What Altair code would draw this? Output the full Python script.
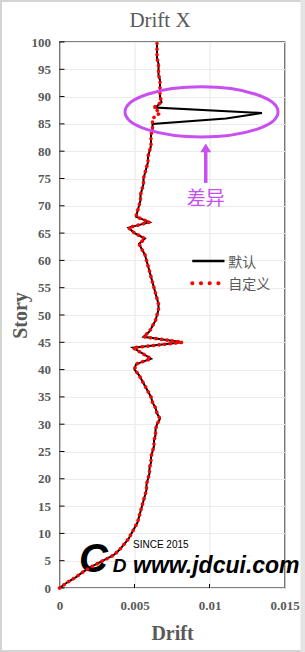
import altair as alt
import pandas as pd

# ---------------- data ----------------
stories = list(range(0, 101))
drift_default = [
    0.0, 0.0005, 0.0011, 0.0016, 0.0022, 0.0029, 0.0036, 0.0040, 0.0043, 0.0046,
    0.0048, 0.0050, 0.0052, 0.0053, 0.0054, 0.0055, 0.0056, 0.0057, 0.0058, 0.0058,
    0.0059, 0.0060, 0.0060, 0.0061, 0.0061, 0.0062, 0.0063, 0.0063, 0.0064, 0.0064,
    0.0065, 0.0067, 0.0065, 0.0064, 0.0062, 0.0061, 0.0059, 0.0057, 0.0055, 0.0053,
    0.0050, 0.0051, 0.0061, 0.0055, 0.0049, 0.0082, 0.0056, 0.0060, 0.0062, 0.0064,
    0.0065, 0.0066, 0.0066, 0.0065, 0.0064, 0.0063, 0.0062, 0.0061, 0.0060, 0.0059,
    0.0058, 0.0057, 0.0055, 0.0053, 0.0057, 0.0050, 0.0046, 0.0060, 0.0051, 0.0052,
    0.0053, 0.0054, 0.0054, 0.0055, 0.0056, 0.0056, 0.0057, 0.0058, 0.0059, 0.0059,
    0.0060, 0.0061, 0.0061, 0.0061, 0.0062, 0.0062, 0.0111, 0.0135, 0.0064, 0.0068,
    0.0067, 0.0067, 0.0067, 0.0067, 0.0066, 0.0066, 0.0066, 0.0065, 0.0065, 0.0065,
    0.0065,
]
drift_custom = [
    0.0, 0.0005, 0.0011, 0.0016, 0.0022, 0.0029, 0.0036, 0.0040, 0.0043, 0.0046,
    0.0048, 0.0050, 0.0052, 0.0053, 0.0054, 0.0055, 0.0056, 0.0057, 0.0058, 0.0058,
    0.0059, 0.0060, 0.0060, 0.0061, 0.0061, 0.0062, 0.0063, 0.0063, 0.0064, 0.0064,
    0.0065, 0.0067, 0.0065, 0.0064, 0.0062, 0.0061, 0.0059, 0.0057, 0.0055, 0.0053,
    0.0050, 0.0051, 0.0061, 0.0055, 0.0049, 0.0082, 0.0056, 0.0060, 0.0062, 0.0064,
    0.0065, 0.0066, 0.0066, 0.0065, 0.0064, 0.0063, 0.0062, 0.0061, 0.0060, 0.0059,
    0.0058, 0.0057, 0.0055, 0.0053, 0.0057, 0.0050, 0.0046, 0.0060, 0.0051, 0.0052,
    0.0053, 0.0054, 0.0054, 0.0055, 0.0056, 0.0056, 0.0057, 0.0058, 0.0059, 0.0059,
    0.0060, 0.0061, 0.0061, 0.0061, 0.0062, 0.0062, 0.0062, 0.0067, 0.0063, 0.0068,
    0.0067, 0.0067, 0.0067, 0.0067, 0.0066, 0.0066, 0.0066, 0.0065, 0.0065, 0.0065,
    0.0065,
]
series_names = ["默认", "自定义"]
x_ticks = [0, 0.005, 0.01, 0.015]
y_ticks = list(range(0, 101, 5))
inner_x_ticks = [0.005, 0.01]

chart_title = "Drift X"
x_title = "Drift"
y_title = "Story"

# annotation (data coordinates)
ellipse_pos = {"drift": [0.00947], "story": [87.2]}
arrow_x = 0.00975
arrow_story = [74.2, 79.9]
arrow_head_story = 80.6
note_text = "差异"
note_story = 71.2

# legend (data coordinates)
legend_x = [0.00885, 0.01100]
legend_x_red = [0.00885, 0.01065]
legend_story = [59.9, 55.8]
legend_text_x = 0.01125

# watermark
wm_main = "www.jdcui.com"
wm_small = "SINCE 2015"

# ---------------- styling ----------------
W, H = 225, 546
GRAY = "#595959"
SERIF = "Liberation Serif"
CJK = "Noto Sans CJK SC"
MAG = "#c84ff0"

xs = alt.Scale(domain=[0, 0.015], nice=False, zero=False)
ys = alt.Scale(domain=[0, 100], nice=False, zero=False)

xaxis = alt.Axis(values=x_ticks, format=".3~f", grid=True, ticks=False, domain=False,
                 labelFont=SERIF, labelFontWeight="bold", labelFontSize=13,
                 labelColor=GRAY, labelPadding=11, labelFlush=False, labelOverlap=False,
                 title=x_title, titleFont=SERIF, titleFontWeight="bold",
                 titleFontSize=20, titleColor=GRAY, titleBaseline="middle",
                 titleY=45, gridColor="#e9e6df", gridWidth=1)
yaxis = alt.Axis(values=y_ticks, grid=True, ticks=False, domain=False,
                 labelFont=SERIF, labelFontWeight="bold", labelFontSize=13,
                 labelColor=GRAY, labelPadding=9, labelFlush=False, labelOverlap=False,
                 title=y_title, titleFont=SERIF, titleFontWeight="bold",
                 titleFontSize=20, titleColor=GRAY, titleAngle=-90,
                 titleBaseline="middle", titleAlign="center",
                 titleX=-39.5, titleY=273, gridColor="#ebebeb", gridWidth=1)

X = alt.X("drift:Q", scale=xs, axis=xaxis)
Y = alt.Y("story:Q", scale=ys, axis=yaxis)

df_def = pd.DataFrame({"story": stories, "drift": drift_default, "series": series_names[0]})
df_cus = pd.DataFrame({"story": stories, "drift": drift_custom, "series": series_names[1]})

one = pd.DataFrame({"k": [0]})

# outer light-gray border of the picture
border = alt.Chart(one).mark_rect(fill=None, stroke="#d4d4d4", strokeWidth=2).encode(
    x=alt.value(-58.5), x2=alt.value(244.5), y=alt.value(-41), y2=alt.value(609))
right_strip = alt.Chart(one).mark_rect(fill="#e4e4e4").encode(
    x=alt.value(241), x2=alt.value(245.5), y=alt.value(-42), y2=alt.value(610))

# chart title as text above the plot
title_mark = alt.Chart(one).mark_text(
    text=chart_title, font=SERIF, fontSize=21, color=GRAY, align="center",
    baseline="alphabetic").encode(x=alt.value(100.5), y=alt.value(-15))

# inward ticks
yt = alt.Chart(pd.DataFrame({"story": y_ticks})).mark_rule(color="black", strokeWidth=1).encode(
    y=Y, x=alt.value(0), x2=alt.value(5))
xt = alt.Chart(pd.DataFrame({"drift": inner_x_ticks})).mark_rule(color="black", strokeWidth=1).encode(
    x=X, y=alt.value(H), y2=alt.value(H - 4))

# watermark
wm_df = pd.DataFrame({"drift": [0.0049], "story": [2.75], "t": [wm_main]})
wm = alt.Chart(wm_df).mark_text(font="Liberation Sans", fontSize=23, fontWeight="bold",
                                fontStyle="italic", color="black", align="left",
                                baseline="alphabetic").encode(x=X, y=Y, text="t:N")
wm2 = alt.Chart(pd.DataFrame({"drift": [0.0049], "story": [7.3], "t": [wm_small]})).mark_text(
    font="Liberation Sans", fontSize=10, color="black", align="left",
    baseline="alphabetic").encode(x=X, y=Y, text="t:N")
logo_df = pd.DataFrame({"drift": [0.0013, 0.00355], "story": [2.9, 2.9],
                        "t": ["C", "D"], "s": [40, 19]})
logo = alt.Chart(logo_df).mark_text(font="Liberation Sans", fontWeight="bold",
                                    fontStyle="italic", color="black", align="left",
                                    baseline="alphabetic").encode(
    x=X, y=Y, text="t:N", size=alt.Size("s:Q", scale=None, legend=None))

line_def = alt.Chart(df_def).mark_line(color="black", strokeWidth=2).encode(
    x=X, y=Y, order="story:Q")
line_cus = alt.Chart(df_cus).mark_line(color="#ff0000", strokeWidth=3.6, strokeDash=[0.1, 5.5],
                                       strokeCap="round").encode(x=X, y=Y, order="story:Q")

# annotation: ellipse, arrow, text
ellipse = alt.Chart(pd.DataFrame(ellipse_pos)).mark_point(
    shape="M -1 0 A 1 0.327 0 1 1 1 0 A 1 0.327 0 1 1 -1 0 Z",
    size=153 * 153, filled=False, stroke=MAG, strokeWidth=3, opacity=1).encode(x=X, y=Y)
arrow_line = alt.Chart(pd.DataFrame({"drift": [arrow_x], "story": [arrow_story[0]],
                                     "story2": [arrow_story[1]]})).mark_rule(
    color=MAG, strokeWidth=3.5).encode(x=X, y=Y, y2="story2:Q")
arrow_head = alt.Chart(pd.DataFrame({"drift": [arrow_x], "story": [arrow_head_story]})).mark_point(
    shape="M 0 -0.8 L 1 0.8 L -1 0.8 Z", size=121, filled=True, fill=MAG, opacity=1,
    strokeWidth=0).encode(x=X, y=Y)
note = alt.Chart(pd.DataFrame({"drift": [arrow_x], "story": [note_story], "t": [note_text]})).mark_text(
    font=CJK, fontSize=19, color=MAG, align="center", baseline="middle").encode(
    x=X, y=Y, text="t:N")

# legend
leg_black = alt.Chart(pd.DataFrame({"drift": [legend_x[0]], "drift2": [legend_x[1]],
                                    "story": [legend_story[0]]})).mark_rule(
    color="black", strokeWidth=2.5).encode(x=X, x2="drift2:Q", y=Y)
leg_red = alt.Chart(pd.DataFrame({"drift": [legend_x_red[0]], "drift2": [legend_x_red[1]],
                                  "story": [legend_story[1]]})).mark_rule(
    color="#ff0000", strokeWidth=4, strokeDash=[0.1, 8.6], strokeCap="round").encode(
    x=X, x2="drift2:Q", y=Y)
leg_text = alt.Chart(pd.DataFrame({"drift": [legend_text_x] * 2,
                                   "story": [legend_story[0] - 0.3, legend_story[1] - 0.3],
                                   "t": series_names})).mark_text(
    font=CJK, fontSize=14, color=GRAY, align="left", baseline="middle").encode(
    x=X, y=Y, text="t:N")

chart = alt.layer(
    border, right_strip, title_mark, yt, xt, wm, wm2, logo, line_def, line_cus,
    ellipse, arrow_line, arrow_head, note, leg_black, leg_red, leg_text,
).properties(
    width=W, height=H,
    autosize=alt.AutoSizeParams(type="none"),
    padding={"left": 59.5, "top": 42, "right": 20.5, "bottom": 64},
    background="white",
).configure_view(stroke="black", strokeWidth=1.3)

chart.save("out.html", embed_options={"renderer": "svg", "actions": False})
